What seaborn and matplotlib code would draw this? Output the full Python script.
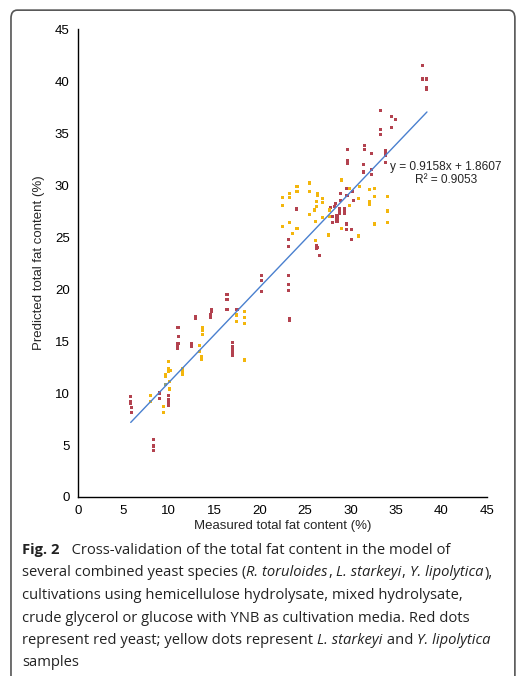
import numpy as np
import pandas as pd
import matplotlib
matplotlib.use("Agg")
from matplotlib import pyplot as plt
from matplotlib.patches import FancyBboxPatch
from matplotlib.transforms import IdentityTransform
import seaborn as sns

# Red yeast samples (measured, predicted)
red_x = [16.4, 16.4, 16.4, 14.65, 14.65, 14.6, 14.6, 12.9, 12.9, 11.0, 11.05,
         11.0, 10.9, 10.9, 10.9, 12.5, 12.5, 17.0, 17.0, 17.0, 17.0, 17.0, 17.5,
         5.8, 5.8, 5.8, 5.9, 5.9, 9.0, 9.0, 9.95, 9.95, 9.95, 9.95, 8.3, 8.3, 8.3,
         31.5, 31.5, 29.7, 32.3, 29.7, 29.7, 31.4, 31.4, 32.3, 32.3,
         29.6, 29.6, 30.2, 28.9, 28.9, 30.3, 28.3, 28.2, 28.8, 29.3, 28.8, 29.3,
         28.8, 29.3, 27.8, 28.5, 28.5, 28.0, 28.0, 28.5, 29.5, 29.5, 30.1, 30.1,
         24.0, 23.2, 23.2, 26.2, 26.4, 26.2, 26.6, 20.2, 20.2, 20.2, 23.2, 23.2,
         23.2, 23.3, 23.3,
         37.9, 37.9, 38.4, 38.4, 38.4, 33.3, 34.5, 34.9, 34.5, 33.3, 33.3, 33.8,
         33.8, 33.8, 33.8]
red_y = [19.45, 19.0, 18.0, 18.0, 17.8, 17.5, 17.3, 17.4, 17.2, 16.3, 15.4,
         14.8, 14.7, 14.45, 14.3, 14.8, 14.5, 14.9, 14.5, 14.2, 13.9, 13.6, 18.0,
         9.7, 9.2, 9.0, 8.6, 8.15, 10.0, 9.5, 9.8, 9.4, 9.1, 8.8, 5.5, 4.9, 4.5,
         33.8, 33.4, 33.4, 33.0, 32.4, 32.1, 32.0, 31.25, 31.5, 31.0,
         29.7, 29.0, 29.35, 29.2, 28.55, 28.5, 28.2, 27.9, 27.75, 27.75, 27.5, 27.5,
         27.25, 27.25, 27.8, 27.1, 26.8, 27.0, 26.4, 26.5, 26.25, 25.7, 25.7, 24.8,
         27.7, 24.8, 24.1, 24.2, 24.0, 23.9, 23.2, 21.3, 20.8, 19.8, 21.3, 20.4,
         19.9, 17.2, 17.0,
         41.5, 40.2, 40.2, 39.4, 39.2, 37.2, 36.6, 36.3, 35.55, 35.3, 34.85, 33.3,
         33.05, 32.85, 32.2]

# L. starkeyi and Y. lipolytica samples
yellow_x = [13.7, 13.7, 13.7, 13.4, 13.4, 13.6, 13.6, 17.4, 17.4, 18.3, 18.3,
            18.3, 18.3, 18.3, 10.0, 10.0, 10.0, 10.2, 9.65, 9.65, 11.45, 11.45,
            11.45, 10.1, 10.1, 10.1, 8.0, 8.0, 9.4, 9.4,
            25.5, 25.5, 24.1, 24.1, 23.3, 23.3, 22.5, 22.5, 22.5, 26.4, 26.4,
            26.9, 26.9, 26.2, 26.2, 26.0, 25.5, 26.9, 27.7, 27.7, 26.1, 23.3,
            24.1, 23.6, 26.1, 27.6, 29.0, 29.0, 29.9, 31.0, 30.9, 29.9, 32.1,
            32.6, 32.6, 32.1, 32.1, 32.6, 29.0, 30.9, 34.1, 34.1, 34.1]
yellow_y = [16.3, 16.0, 15.65, 14.6, 14.0, 13.5, 13.25, 17.5, 16.9, 17.85, 17.3,
            16.7, 13.25, 13.1, 13.0, 12.4, 12.1, 12.2, 11.8, 11.6, 12.4, 12.05,
            11.8, 11.1, 10.45, 10.3, 9.8, 9.15, 8.7, 8.15,
            30.2, 29.35, 29.9, 29.4, 29.2, 28.8, 28.8, 28.0, 26.0, 29.2, 29.0,
            28.7, 28.3, 28.4, 27.9, 27.6, 27.2, 26.9, 27.6, 27.0, 26.5, 26.4,
            25.8, 25.3, 24.7, 25.2, 30.55, 30.4, 29.7, 29.9, 28.7, 28.0, 29.6,
            29.7, 28.9, 28.4, 28.1, 26.25, 25.8, 25.1, 28.9, 27.5, 26.4]

grey_x = [9.6]
grey_y = [10.8]

slope, intercept = 0.9158, 1.8607
fit_x = [5.8, 38.4]
ticks = [0, 5, 10, 15, 20, 25, 30, 35, 40, 45]

df = pd.DataFrame({
    "measured": red_x + yellow_x + grey_x,
    "predicted": red_y + yellow_y + grey_y,
    "group": ["red"] * len(red_x) + ["yellow"] * len(yellow_x) + ["grey"] * len(grey_x),
})

sns.set_style("white")
plt.rcParams["font.family"] = ["Liberation Sans", "DejaVu Sans"]

fig = plt.figure(figsize=(5.18, 6.76), dpi=100)
ax = fig.add_axes([0.1506, 0.2648, 0.7894, 0.6922])

palette = {"red": "#b3424f", "yellow": "#f3b60c", "grey": "#8fa07a"}
sns.scatterplot(data=df, x="measured", y="predicted", hue="group", palette=palette,
                marker="s", s=5, linewidth=0, legend=False, ax=ax)

fx = np.array(fit_x)
sns.lineplot(x=fx, y=slope * fx + intercept, color="#4a80cf", linewidth=1.0, ax=ax)

# regression equation
ax.text(40.5, 31.7, "y = 0.9158x + 1.8607", ha="center", va="center", fontsize=8.6)
ax.text(40.5, 30.5, "R² = 0.9053", ha="center", va="center", fontsize=8.6)

ax.set_xlim(0, 45)
ax.set_ylim(0, 45)
ax.set_xticks(ticks)
ax.set_yticks(ticks)
ax.tick_params(direction="out", length=3, width=0.8, labelsize=9.5, colors="black", pad=3)
sns.despine(ax=ax)
for s in ["left", "bottom"]:
    ax.spines[s].set_color("black")
    ax.spines[s].set_linewidth(1.0)
ax.set_xlabel("Measured total fat content (%)", fontsize=9.5, labelpad=2)
ax.set_ylabel("Predicted total fat content (%)", fontsize=9.5, labelpad=7)

# frame around the figure
frame = FancyBboxPatch((0.0212, -0.05), 0.9728, 0.985 + 0.05, boxstyle="round,pad=0,rounding_size=0.012",
                       transform=fig.transFigure, facecolor="none", edgecolor="#555555",
                       linewidth=1.2, clip_on=False)
fig.patches.append(frame)

# caption with mixed styles
cap_font = ["Open Sans", "DejaVu Sans"]
caption = [
    [("Fig. 2", "bold"), ("   Cross-validation of the total fat content in the model of", "normal")],
    [("several combined yeast species (", "normal"), ("R. toruloides", "italic"), (", ", "normal"),
     ("L. starkeyi", "italic"), (", ", "normal"), ("Y. lipolytica", "italic"), ("),", "normal")],
    [("cultivations using hemicellulose hydrolysate, mixed hydrolysate,", "normal")],
    [("crude glycerol or glucose with YNB as cultivation media. Red dots", "normal")],
    [("represent red yeast; yellow dots represent ", "normal"), ("L. starkeyi", "italic"),
     (" and ", "normal"), ("Y. lipolytica", "italic")],
    [("samples", "normal")],
]
renderer = fig.canvas.get_renderer()
H = 676
y0 = 554
for i, parts in enumerate(caption):
    x = 22
    y = H - (y0 + i * 22.5)
    for txt, style in parts:
        t = fig.text(x, y, txt, transform=IdentityTransform(), fontsize=10.6,
                     family=cap_font, color="#222222",
                     fontweight="bold" if style == "bold" else "normal",
                     fontstyle="italic" if style == "italic" else "normal",
                     va="baseline")
        x = t.get_window_extent(renderer).x1
        if style == "italic":
            x += 0.8

fig.savefig("out.png", dpi=100)
